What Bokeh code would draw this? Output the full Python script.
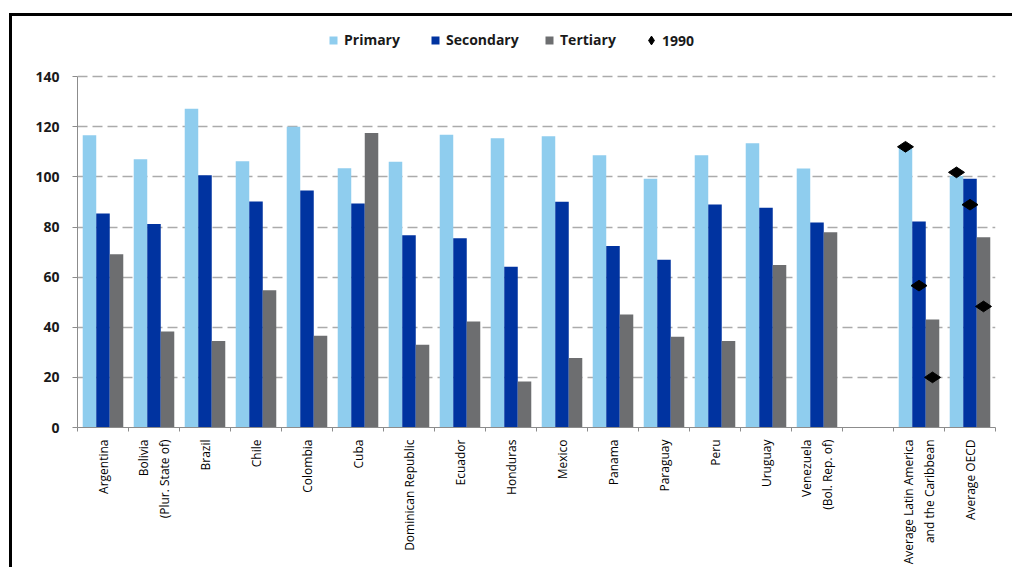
import math
from bokeh.plotting import figure
from bokeh.models import (FixedTicker, Legend, LegendItem, ColumnDataSource)
from bokeh.transform import dodge
from bokeh.embed import file_html
from bokeh.resources import INLINE

# ---------------- data ----------------
categories = [
    "Argentina", "Bolivia\n(Plur. State of)", "Brazil", "Chile", "Colombia",
    "Cuba", "Dominican Republic", "Ecuador", "Honduras", "Mexico", "Panama",
    "Paraguay", "Peru", "Uruguay", "Venezuela\n(Bol. Rep. of)", "",
    "Average Latin America\nand the Caribbean", "Average OECD",
]
primary = [116.6, 107.0, 127.2, 106.2, 120.0, 103.4, 106.0, 116.8, 115.4,
           116.2, 108.6, 99.3, 108.6, 113.4, 103.3, None, 111.5, 100.3]
secondary = [85.4, 81.2, 100.6, 90.2, 94.6, 89.4, 76.7, 75.5, 64.1,
             90.1, 72.4, 66.9, 89.0, 87.7, 81.8, None, 82.2, 99.3]
tertiary = [69.1, 38.3, 34.5, 54.8, 36.6, 117.5, 33.0, 42.3, 18.4,
            27.7, 45.1, 36.2, 34.5, 64.8, 77.9, None, 43.1, 75.9]

avg_categories = ["Average Latin America\nand the Caribbean", "Average OECD"]
primary_1990 = [112.0, 101.8]
secondary_1990 = [56.6, 88.9]
tertiary_1990 = [20.0, 48.3]

y_ticks = [0, 20, 40, 60, 80, 100, 120, 140]
series_labels = ["Primary", "Secondary", "Tertiary", "1990"]

C_PRI = "#8FCDEE"
C_SEC = "#0033A0"
C_TER = "#6D6E70"
FONT = "Open Sans"

# ---------------- sources ----------------
idx = [i for i, c in enumerate(categories) if c != ""]
centers = [i + 0.5 for i in idx]
bars = ColumnDataSource(dict(
    x=centers,
    primary=[primary[i] for i in idx],
    secondary=[secondary[i] for i in idx],
    tertiary=[tertiary[i] for i in idx],
))
dots = ColumnDataSource(dict(
    x=[categories.index(c) + 0.5 for c in avg_categories],
    p=primary_1990, s=secondary_1990, t=tertiary_1990,
))

BW = 0.265

p = figure(
    frame_width=918, frame_height=401,
    x_range=(0, len(categories)), y_range=(0, 160),
    output_backend="svg", toolbar_location=None,
    min_border_left=65, min_border_right=17, min_border_top=10,
    min_border_bottom=10,
)
p.styles = {"border-left": "3px solid black", "border-top": "3px solid black",
            "margin-left": "9px", "margin-top": "13px"}
p.outline_line_color = None
p.background_fill_color = "white"
p.border_fill_color = "white"

r_pri = p.vbar(x=dodge("x", -BW, range=p.x_range), top="primary", width=BW,
               source=bars, color=C_PRI, line_color=None)
r_sec = p.vbar(x="x", top="secondary", width=BW, source=bars,
               color=C_SEC, line_color=None)
r_ter = p.vbar(x=dodge("x", BW, range=p.x_range), top="tertiary", width=BW,
               source=bars, color=C_TER, line_color=None)

dkw = dict(marker="diamond", size=16, angle=math.pi / 2, color="black",
           source=dots)
r_d = p.scatter(x=dodge("x", -BW, range=p.x_range), y="p", **dkw)
p.scatter(x="x", y="s", **dkw)
p.scatter(x=dodge("x", BW, range=p.x_range), y="t", **dkw)

# ---------------- axes ----------------
p.xgrid.visible = False
p.ygrid.grid_line_color = "#ABABAB"
p.ygrid.grid_line_width = 1.6
p.ygrid.grid_line_dash = "10 5"
p.yaxis.ticker = FixedTicker(ticks=y_ticks)
p.yaxis.bounds = (0, 140)

p.yaxis.axis_line_color = "#8C8C8C"
p.yaxis.major_tick_line_color = "#8C8C8C"
p.yaxis.major_tick_out = 5
p.yaxis.major_tick_in = 0
p.yaxis.minor_tick_line_color = None
p.yaxis.major_label_text_font = FONT
p.yaxis.major_label_text_font_style = "bold"
p.yaxis.major_label_text_font_size = "14px"
p.yaxis.major_label_text_color = "#1A1A1A"
p.yaxis.major_label_standoff = 13

boundaries = list(range(0, len(categories) + 1))
p.xaxis.ticker = FixedTicker(ticks=centers, minor_ticks=boundaries)
p.xaxis.major_label_overrides = {i + 0.5: categories[i] for i in idx}
p.xaxis.major_label_orientation = math.pi / 2
p.xaxis.axis_line_color = "#8C8C8C"
p.xaxis.major_tick_line_color = None
p.xaxis.minor_tick_line_color = "#8C8C8C"
p.xaxis.minor_tick_out = 4
p.xaxis.minor_tick_in = 0
p.xaxis.major_label_text_font = FONT
p.xaxis.major_label_text_font_size = "12px"
p.xaxis.major_label_text_color = "#000000"
p.xaxis.major_label_standoff = 6

# ---------------- legends ----------------
legend_specs = [
    (series_labels[0], r_pri, (251, 378), 10, 6),
    (series_labels[1], r_sec, (353, 378), 10, 6),
    (series_labels[2], r_ter, (467, 378), 10, 6),
    (series_labels[3], r_d, (563, 376), 22, -4),
]
for label, rend, loc, gsize, standoff in legend_specs:
    lg = Legend(items=[LegendItem(label=label, renderers=[rend])],
                location=loc, orientation="horizontal")
    lg.label_text_font = FONT
    lg.label_text_font_style = "bold"
    lg.label_text_font_size = "14px"
    lg.label_text_color = "#1A1A1A"
    lg.border_line_color = None
    lg.background_fill_alpha = 0
    lg.padding = 0
    lg.margin = 0
    lg.glyph_width = gsize
    lg.glyph_height = gsize
    lg.label_standoff = standoff
    p.add_layout(lg, "center")

open("out.html", "w").write(file_html(p, INLINE))
